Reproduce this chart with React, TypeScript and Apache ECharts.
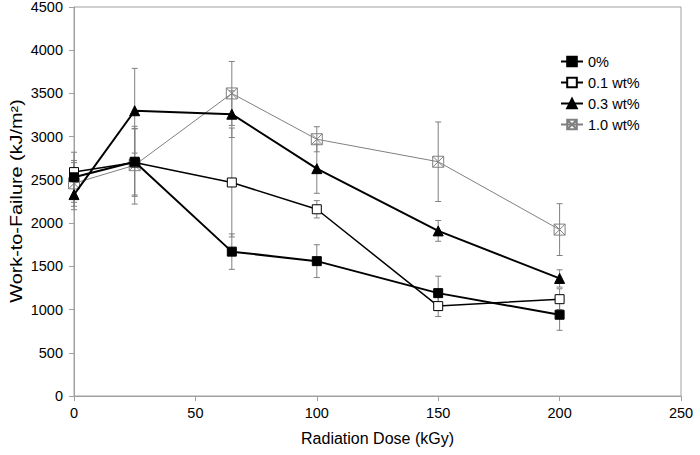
import React, { useEffect, useRef } from "react";
import * as echarts from "echarts";

const doses = [0, 25, 65, 100, 150, 200];
const seriesNames = ["0%", "0.1 wt%", "0.3 wt%", "1.0 wt%"];
const yTitle = "Work-to-Failure (kJ/m²)";
const xTitle = "Radiation Dose (kGy)";

const s0 = [2530, 2710, 1670, 1560, 1190, 940];
const e0 = [290, 385, 205, 190, 196, 180];
const s01 = [2590, 2700, 2470, 2160, 1040, 1120];
const e01 = [110, 390, 630, 100, 120, 120];
const s03 = [2330, 3300, 3260, 2630, 1910, 1360];
const e03 = [175, 490, 270, 285, 120, 100];
const s10 = [2460, 2670, 3500, 2970, 2710, 1925];
const e10 = [265, 450, 370, 145, 460, 300];

const FONT = "'Liberation Sans', Arial, sans-serif";
const AXIS = "#a0a0a0";
const ERR = "#808080";

const XSQ = "path://M0,0 L10,0 L10,10 L0,10 Z M0,0 L10,10 M10,0 L0,10";

export default function App() {
  const ref = useRef<HTMLDivElement>(null);
  useEffect(() => {
    if (!ref.current) return;
    const chart = echarts.init(ref.current, null, { renderer: "svg" });
    const values = [s0, s01, s03, s10];
    const errs = [e0, e01, e03, e10];
    const errData: number[][] = [];
    values.forEach((arr, i) =>
      arr.forEach((v, j) => errData.push([doses[j], v, errs[i][j]]))
    );
    const pts = (arr: number[]) => arr.map((v, j) => [doses[j], v]);
    chart.setOption({
      animation: false,
      textStyle: { fontFamily: FONT },
      grid: {
        left: 74,
        right: 19,
        top: 7,
        bottom: 59,
        containLabel: false,
        outerBoundsMode: "none",
        show: true,
        borderColor: AXIS,
        borderWidth: 1,
      },
      graphic: [
        {
          type: "text",
          x: 17,
          y: 201,
          rotation: Math.PI / 2,
          scaleX: 1.24,
          scaleY: 1,
          style: {
            text: yTitle,
            align: "center",
            verticalAlign: "middle",
            fontSize: 16,
            fontFamily: FONT,
            fill: "#000",
          },
        },
      ],
      legend: {
        orient: "vertical",
        left: 555,
        top: 49,
        itemWidth: 22,
        itemHeight: 12,
        itemGap: 6,
        data: seriesNames,
        textStyle: { fontSize: 14.5, color: "#000", fontFamily: FONT },
      },
      xAxis: {
        type: "value",
        min: 0,
        max: 250,
        interval: 50,
        name: xTitle,
        nameLocation: "middle",
        nameGap: 34,
        nameTextStyle: { fontSize: 16, color: "#000", fontFamily: FONT },
        axisLine: { show: true, lineStyle: { color: AXIS } },
        axisTick: { show: true, length: 5, lineStyle: { color: AXIS } },
        axisLabel: { fontSize: 14.5, color: "#000", margin: 9, fontFamily: FONT },
        splitLine: { show: false },
      },
      yAxis: {
        type: "value",
        min: 0,
        max: 4500,
        interval: 500,
        axisLine: { show: true, lineStyle: { color: AXIS } },
        axisTick: { show: true, length: 5, lineStyle: { color: AXIS } },
        axisLabel: {
          fontSize: 14.5,
          color: "#000",
          margin: 11,
          fontFamily: FONT,
          formatter: (v: number) => String(v),
        },
        splitLine: { show: false },
      },
      series: [
        {
          type: "custom",
          name: "err",
          z: 1,
          encode: { x: 0, y: 1 },
          data: errData,
          renderItem: (params: any, api: any) => {
            const x = api.value(0);
            const v = api.value(1);
            const e = api.value(2);
            const hi = api.coord([x, v + e]);
            const lo = api.coord([x, v - e]);
            const w = 3;
            const st = { stroke: ERR, lineWidth: 1 };
            return {
              type: "group",
              children: [
                { type: "line", shape: { x1: hi[0], y1: hi[1], x2: lo[0], y2: lo[1] }, style: st },
                { type: "line", shape: { x1: hi[0] - w, y1: hi[1], x2: hi[0] + w, y2: hi[1] }, style: st },
                { type: "line", shape: { x1: lo[0] - w, y1: lo[1], x2: lo[0] + w, y2: lo[1] }, style: st },
              ],
            };
          },
        },
        {
          type: "line",
          name: seriesNames[0],
          z: 5,
          data: pts(s0),
          symbol: "rect",
          symbolSize: 9,
          lineStyle: { color: "#000", width: 2 },
          itemStyle: { color: "#000", borderColor: "#000", borderWidth: 1 },
        },
        {
          type: "line",
          name: seriesNames[1],
          z: 4,
          data: pts(s01),
          symbol: "rect",
          symbolSize: 9,
          lineStyle: { color: "#000", width: 1.5 },
          itemStyle: { color: "#fff", borderColor: "#000", borderWidth: 1 },
        },
        {
          type: "line",
          name: seriesNames[2],
          z: 4,
          data: pts(s03),
          symbol: "triangle",
          symbolSize: 10,
          lineStyle: { color: "#000", width: 2 },
          itemStyle: { color: "#000", borderColor: "#000", borderWidth: 1 },
        },
        {
          type: "line",
          name: seriesNames[3],
          z: 3,
          data: pts(s10),
          symbol: XSQ,
          symbolSize: 11,
          lineStyle: { color: "#808080", width: 1 },
          itemStyle: { color: "rgba(255,255,255,0)", borderColor: "#808080", borderWidth: 1 },
        },
      ],
    });
    return () => chart.dispose();
  }, []);
  return (
    <div
      ref={ref}
      style={{ position: "absolute", left: 0, top: 0, width: 700, height: 455 }}
    />
  );
}
